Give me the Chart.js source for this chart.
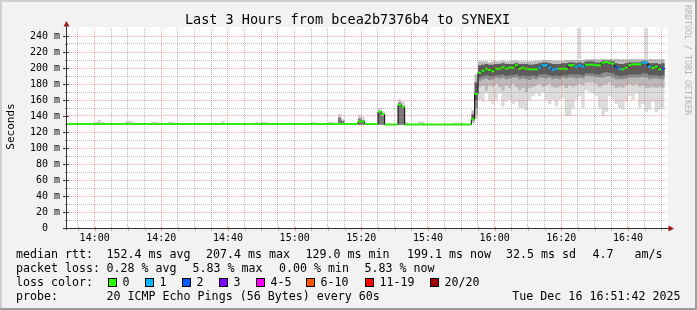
<!DOCTYPE html>
<html lang="en">
<head>
<meta charset="utf-8">
<title>SmokePing</title>
<script src="https://cdn.jsdelivr.net/npm/chart.js@4.4.1/dist/chart.umd.min.js"></script>
<style>
  html, body { margin: 0; padding: 0; background: #f2f2f2; }
  #grafico { display: block; width: 697px; height: 310px; }
</style>
</head>
<body>
<canvas id="grafico" width="697" height="310"></canvas>
<script>
// Janela do gráfico: das 13:51:42 às 16:51:42 (minutos desde a meia-noite)
const inicio = 13 * 60 + 51 + 42 / 60;
const fim = inicio + 180;

// Rótulos dos eixos
const rotulosX = ['14:00', '14:20', '14:40', '15:00', '15:20', '15:40', '16:00', '16:20', '16:40'];
const rotulosY = [0, 20, 40, 60, 80, 100, 120, 140, 160, 180, 200, 220, 240];

// Mediana do rtt (ms): início de cada trecho, valor e pings perdidos (de 20)
const medianaHoras = ['13:51', '15:19', '15:21', '15:25', '15:26', '15:27', '15:31', '15:32', '15:33',
  '15:53', '15:54', '15:55', '15:56', '15:57', '15:58', '15:59', '16:00', '16:01', '16:02',
  '16:03', '16:04', '16:05', '16:06', '16:07', '16:08', '16:09', '16:10', '16:11', '16:12',
  '16:13', '16:14', '16:15', '16:16', '16:17', '16:18', '16:19', '16:20', '16:21', '16:22',
  '16:23', '16:24', '16:25', '16:26', '16:27', '16:28', '16:29', '16:30', '16:31', '16:32',
  '16:33', '16:34', '16:35', '16:36', '16:37', '16:38', '16:39', '16:40', '16:41', '16:42',
  '16:43', '16:44', '16:45', '16:46', '16:47', '16:48', '16:49', '16:50'];
const medianaValores = [130, 133, 130, 145.4, 142.5, 129.3, 154, 151.7, 129.3,
  135.8, 167.5, 194.2, 196.7, 199.2, 197.9, 195.8, 199.2, 199.2, 200.8,
  199.2, 200.4, 200.4, 203.3, 199.2, 200.4, 199.2, 198.3, 198.3, 198.3,
  200.4, 203.3, 203.3, 200.4, 197.9, 199.0, 199.2, 199.2, 199.2, 203.3,
  203.3, 201.7, 203.3, 201.7, 204.2, 204.2, 204.2, 203.3, 203.3, 206.7,
  207.4, 206.7, 205.4, 200.8, 199.2, 198.3, 200.4, 203.3, 204.6, 204.6,
  204.6, 206.7, 206.9, 201.7, 200.0, 201.7, 198.3, 199.1];
const medianaPerdas = [0, 0, 0, 0, 0, 0, 0, 0, 0,
  0, 0, 0, 0, 0, 0, 0, 0, 0, 0,
  0, 0, 0, 0, 0, 0, 0, 0, 0, 0,
  1, 1, 1, 1, 1, 1, 0, 0, 0, 0,
  0, 1, 1, 1, 0, 0, 0, 0, 0, 0,
  0, 0, 0, 2, 1, 0, 0, 0, 0, 0,
  0, 1, 1, 1, 0, 0, 0, 2];
const medianaFim = '16:51';

// Fumaça (dispersão dos 20 pings) a partir das 15:53, um valor por minuto (ms)
const fumacaInicio = '15:53';
const fumacaTopo = [147, 192, 208, 208, 208, 207, 208, 208, 208, 209,
  208, 208, 209, 209, 208, 208, 208, 208, 208, 209,
  209, 210, 210, 210, 209, 209, 209, 209, 210, 210,
  210, 210, 210, 210, 211, 211, 211, 211, 211, 211,
  211, 211, 211, 211, 211, 211, 211, 211, 211, 211,
  211, 211, 211, 211, 211, 211, 211, 211];
const nucleoAlto = [142, 182, 203, 204, 205, 204, 204, 205, 205, 206,
  205, 205, 205, 206, 205, 205, 205, 204, 204, 205,
  206, 207, 207, 206, 205, 205, 205, 206, 206, 207,
  207, 206, 207, 206, 208, 208, 208, 207, 207, 209,
  209, 209, 208, 206, 205, 205, 206, 207, 207, 207,
  207, 208, 208, 206, 206, 206, 205, 206];
const nucleoBaixo = [136, 160, 188, 190, 191, 190, 190, 191, 191, 192,
  190, 191, 191, 192, 190, 191, 190, 190, 191, 190,
  192, 192, 192, 191, 190, 191, 190, 191, 191, 192,
  192, 192, 192, 191, 193, 193, 193, 192, 192, 194,
  195, 194, 193, 191, 190, 190, 191, 192, 192, 192,
  192, 193, 193, 191, 191, 191, 190, 191];
const escuroBaixo = [134, 150, 184, 186, 187, 185, 186, 188, 187, 188,
  186, 187, 188, 188, 186, 187, 186, 185, 187, 186,
  188, 188, 187, 188, 186, 187, 186, 188, 187, 188,
  188, 187, 188, 187, 190, 190, 190, 189, 188, 188,
  190, 190, 188, 186, 186, 186, 187, 188, 188, 188,
  188, 189, 188, 186, 187, 187, 186, 186];
const medioBaixo = [132, 142, 176, 178, 172, 178, 176, 180, 176, 172,
  178, 175, 180, 176, 172, 175, 170, 175, 176, 178,
  180, 176, 178, 180, 176, 175, 177, 178, 175, 178,
  176, 178, 180, 178, 182, 182, 182, 180, 176, 178,
  180, 182, 178, 175, 176, 175, 178, 180, 178, 180,
  176, 178, 175, 175, 176, 175, 176, 175];
const claroBaixo = [130, 136, 160, 158, 168, 158, 155, 160, 168, 152,
  158, 160, 155, 158, 150, 150, 147, 160, 165, 168,
  165, 170, 160, 155, 160, 152, 160, 162, 140, 140,
  150, 160, 165, 150, 172, 170, 168, 165, 150, 140,
  145, 165, 160, 155, 150, 148, 158, 165, 160, 168,
  150, 155, 145, 148, 158, 145, 148, 150];

// Pequenas manchas de fumaça antes da subida (topo claro e topo da parte escura)
const manchaHoras = ['14:00', '14:01', '14:02', '14:09', '14:10', '14:11', '14:17', '14:18',
  '14:22', '14:23', '14:38', '14:48', '14:50', '14:51', '15:05', '15:10', '15:11',
  '15:13', '15:14', '15:19', '15:20', '15:25', '15:26', '15:31', '15:32', '15:33',
  '15:37', '15:38', '15:47', '15:48', '15:49', '15:50'];
const manchaTopo = [132.5, 135, 132.5, 133, 134, 133, 132.5, 132.5,
  132.5, 132.5, 134, 132.5, 132.5, 132.5, 132.5, 132.5, 132.5,
  142.5, 136, 141, 139, 149.6, 146, 160.8, 158, 132.5,
  133, 133, 131.7, 131.7, 131.7, 131.7];
const manchaEscuro = [null, null, null, null, null, null, null, null,
  null, null, null, null, null, null, null, null, null,
  138, 134, 137, 135, 146, 140, 157, 152, null,
  null, null, null, null, null, null];
const manchaBase = 129;

// Pings isolados bem acima da fumaça (cortados no topo do gráfico)
const picoHoras = ['16:25', '16:45'];
const picoBase = [211, 211];
const picoTopo = [250, 250];

// Cores de perda (legenda do SmokePing)
const legendaPerdas = ['0', '1', '2', '3', '4-5', '6-10', '11-19', '20/20'];
const legendaCores = ['#26ff00', '#00b8ff', '#0059ff', '#7e00ff', '#ff00ff', '#ff5500', '#ff0000', '#a10000'];

// Linhas de texto da legenda
const legendaLinhas = [
  { y: 258, partes: [['median rtt:', 16], ['152.4 ms avg', 106.5], ['207.4 ms max', 206], ['129.0 ms min', 305.5],
    ['199.1 ms now', 407], ['32.5 ms sd', 506], ['4.7', 592.5], ['am/s', 634.5]] },
  { y: 272, partes: [['packet loss:', 16], ['0.28 % avg', 106.5], ['5.83 % max', 192.5], ['0.00 % min', 279],
    ['5.83 % now', 364.5]] },
  { y: 286, partes: [['loss color:', 16]] },
  { y: 300, partes: [['probe:', 16], ['20 ICMP Echo Pings (56 Bytes) every 60s', 106.5]] }
];
const legendaCaixasX = [108.5, 145.5, 182.5, 219.5, 256.5, 306.5, 365.5, 430.5];
const dataGrafico = 'Tue Dec 16 16:51:42 2025';

// Funções auxiliares
function minutos(h) {
  const [hh, mm] = h.split(':').map(Number);
  return hh * 60 + mm;
}

function hhmm(v) {
  const h = Math.floor(v / 60);
  const m = Math.round(v - h * 60);
  return h + ':' + String(m).padStart(2, '0');
}

// Monta uma faixa de fumaça (duas linhas em degrau, a de cima preenchida até a de baixo)
function faixa(tempos, baixo, alto, cor, ordem) {
  const pBaixo = [];
  const pAlto = [];
  tempos.forEach((t, i) => {
    if (baixo[i] == null || alto[i] == null) return;
    pBaixo.push({ x: t, y: baixo[i] });
    pAlto.push({ x: t, y: alto[i] });
    const continua = tempos[i + 1] === t + 1 && baixo[i + 1] != null && alto[i + 1] != null;
    if (!continua) {
      pBaixo.push({ x: t + 1, y: baixo[i] }, { x: t + 1, y: null });
      pAlto.push({ x: t + 1, y: alto[i] }, { x: t + 1, y: null });
    }
  });
  const base = { stepped: true, borderWidth: 0, borderColor: 'rgba(0,0,0,0)', pointRadius: 0, clip: 0, order: ordem };
  return [
    { ...base, data: pBaixo, fill: false },
    { ...base, data: pAlto, fill: '-1', backgroundColor: cor }
  ];
}

// Mediana colorida pela perda: só os trechos horizontais (as subidas ficam na linha preta)
function linhaPerda(classe) {
  const pts = [];
  medianaHoras.forEach((h, i) => {
    if (medianaPerdas[i] !== classe) return;
    const ate = minutos(medianaHoras[i + 1] || medianaFim);
    pts.push({ x: minutos(h), y: medianaValores[i] }, { x: ate, y: medianaValores[i] }, { x: ate, y: null });
  });
  return pts;
}

const temposFumaca = fumacaTopo.map((_, i) => minutos(fumacaInicio) + i);
const temposMancha = manchaHoras.map(minutos);
const basesMancha = manchaHoras.map(() => manchaBase);

const conjuntos = [
  ...faixa(picoHoras.map(minutos), picoBase, picoTopo, '#dadada', 16),
  ...faixa(temposMancha, basesMancha, manchaTopo, '#d2d2d2', 15),
  ...faixa(temposMancha, basesMancha, manchaEscuro, '#7a7a7a', 14),
  ...faixa(temposFumaca, claroBaixo, fumacaTopo, '#dcdcdc', 13),
  ...faixa(temposFumaca, medioBaixo, fumacaTopo, '#bababa', 12),
  ...faixa(temposFumaca, escuroBaixo, nucleoAlto, '#8c8c8c', 11),
  ...faixa(temposFumaca, nucleoBaixo, nucleoAlto, '#5c5c5c', 10)
];

const pretos = medianaHoras.map((h, i) => ({ x: minutos(h), y: medianaValores[i] }));
pretos.push({ x: minutos(medianaFim), y: medianaValores[medianaValores.length - 1] });
conjuntos.push({ data: pretos, stepped: true, borderColor: '#000000', borderWidth: 1, pointRadius: 0, fill: false, clip: 0, order: 2 });

[0, 1, 2].forEach(classe => {
  conjuntos.push({
    data: linhaPerda(classe), borderColor: legendaCores[classe], borderWidth: 2,
    borderCapStyle: 'butt', pointRadius: 0, fill: false, clip: 0, order: 1
  });
});

// Grade: linhas principais vermelhas, secundárias cinza, pontilhadas
const gradeMaior = 'rgba(255, 0, 0, 0.34)';
const gradeMenor = 'rgba(110, 110, 110, 0.45)';
const fonteMono = '"DejaVu Sans Mono", monospace';

// Moldura, textos, eixos com setas e legenda
const moldura = {
  id: 'moldura',
  beforeDraw(chart) {
    const c = chart.ctx;
    c.save();
    c.fillStyle = '#f2f2f2';
    c.fillRect(0, 0, 697, 310);
    const a = chart.chartArea;
    c.fillStyle = '#ffffff';
    c.fillRect(a.left, a.top - 1, a.right - a.left + 1, a.bottom - a.top + 1);
    c.restore();
  },
  afterDraw(chart) {
    const c = chart.ctx;
    const a = chart.chartArea;
    const sx = chart.scales.x;
    const sy = chart.scales.y;
    c.save();

    // marcas pequenas nos eixos
    sx.ticks.forEach(t => {
      const px = Math.round(sx.getPixelForValue(t.value)) + 0.5;
      c.strokeStyle = t.value % 20 === 0 ? '#f08a8a' : '#b8b8b8';
      c.beginPath(); c.moveTo(px, a.bottom - 1); c.lineTo(px, a.bottom + 3); c.stroke();
    });
    sy.ticks.forEach(t => {
      const py = Math.round(sy.getPixelForValue(t.value)) + 0.5;
      const maior = t.value % 20 === 0;
      c.strokeStyle = maior ? '#404040' : '#909090';
      c.beginPath(); c.moveTo(a.left - (maior ? 4 : 2), py); c.lineTo(a.left + (maior ? 2 : 1), py); c.stroke();
    });

    // eixos
    c.strokeStyle = '#303030';
    c.lineWidth = 1;
    c.beginPath();
    c.moveTo(a.left - 0.5, a.bottom + 2);
    c.lineTo(a.left - 0.5, a.top - 2);
    c.moveTo(a.left - 4, a.bottom + 0.5);
    c.lineTo(a.right + 2, a.bottom + 0.5);
    c.stroke();

    // setas
    c.fillStyle = '#9a1a1a';
    c.beginPath();
    c.moveTo(a.left - 3.5, a.top - 1.5);
    c.lineTo(a.left + 2.5, a.top - 1.5);
    c.lineTo(a.left - 0.5, a.top - 7);
    c.closePath(); c.fill();
    c.beginPath();
    c.moveTo(a.right + 1.5, a.bottom - 2.5);
    c.lineTo(a.right + 1.5, a.bottom + 3.5);
    c.lineTo(a.right + 7, a.bottom + 0.5);
    c.closePath(); c.fill();

    // título
    c.fillStyle = '#000000';
    c.textBaseline = 'alphabetic';
    c.textAlign = 'center';
    c.font = '13.5px ' + fonteMono;
    c.fillText('Last 3 Hours from bcea2b7376b4 to SYNEXI', 347.5, 24);

    // nome do eixo y
    c.save();
    c.translate(11, 126.5);
    c.rotate(-Math.PI / 2);
    c.textBaseline = 'middle';
    c.font = '11px ' + fonteMono;
    c.fillText('Seconds', 0, 0);
    c.restore();

    // marca d'água do rrdtool
    c.save();
    c.translate(687.5, 60);
    c.rotate(Math.PI / 2);
    c.textBaseline = 'middle';
    c.fillStyle = '#b4b4b4';
    c.font = '8.3px ' + fonteMono;
    c.fillText('RRDTOOL / TOBI OETIKER', 0, 0);
    c.restore();

    // legenda
    c.font = '11.65px ' + fonteMono;
    c.textAlign = 'left';
    c.fillStyle = '#000000';
    legendaLinhas.forEach(linha => {
      linha.partes.forEach(([txt, x]) => c.fillText(txt, x, linha.y));
    });
    legendaCaixasX.forEach((x, i) => {
      c.fillStyle = legendaCores[i];
      c.fillRect(x, 278.5, 8, 8);
      c.strokeStyle = '#000000';
      c.strokeRect(x, 278.5, 8, 8);
      c.fillStyle = '#000000';
      c.fillText(legendaPerdas[i], x + 14, 286);
    });
    c.textAlign = 'right';
    c.fillText(dataGrafico, 680.5, 300);

    // sombras da moldura
    c.fillStyle = '#cfcfcf';
    c.fillRect(0, 0, 697, 2);
    c.fillRect(0, 0, 2, 310);
    c.fillStyle = '#9e9e9e';
    c.fillRect(0, 308, 697, 2);
    c.fillRect(695, 0, 2, 310);
    c.restore();
  }
};

const ctx = document.getElementById('grafico').getContext('2d');
const grafico = new Chart(ctx, {
  type: 'line',
  data: { datasets: conjuntos },
  options: {
    responsive: false,
    animation: false,
    devicePixelRatio: 1,
    events: [],
    layout: { padding: { top: 28, right: 30, left: 0, bottom: 0 } },
    plugins: {
      legend: { display: false },
      tooltip: { enabled: false },
      title: { display: false }
    },
    scales: {
      x: {
        type: 'linear',
        min: inicio,
        max: fim,
        afterFit(escala) { escala.height = 82; },
        afterBuildTicks(escala) {
          const marcas = [];
          for (let t = 835; t < fim; t += 5) marcas.push({ value: t });
          escala.ticks = marcas;
        },
        grid: {
          z: 1,
          drawTicks: false,
          lineWidth: 1,
          color: c => (c.tick && c.tick.value % 20 === 0 ? gradeMaior : gradeMenor)
        },
        border: { display: false, dash: [1, 1] },
        ticks: {
          autoSkip: false,
          maxRotation: 0,
          minRotation: 0,
          padding: 4,
          color: '#000000',
          font: { family: fonteMono, size: 10 },
          callback: v => (rotulosX.includes(hhmm(v)) ? hhmm(v) : '')
        }
      },
      y: {
        type: 'linear',
        min: 0,
        max: 250,
        afterFit(escala) { escala.width = 67; },
        afterBuildTicks(escala) {
          const marcas = [];
          for (let v = 0; v <= 240; v += 10) marcas.push({ value: v });
          escala.ticks = marcas;
        },
        grid: {
          z: 1,
          drawTicks: false,
          lineWidth: 1,
          color: c => (c.tick && c.tick.value % 20 === 0 ? gradeMaior : gradeMenor)
        },
        border: { display: false, dash: [1, 1] },
        ticks: {
          autoSkip: false,
          padding: 7,
          color: '#000000',
          font: { family: fonteMono, size: 10 },
          callback: v => (rotulosY.includes(v) ? (v === 0 ? '0  ' : v + ' m') : '')
        }
      }
    }
  },
  plugins: [moldura]
});
</script>
</body>
</html>
